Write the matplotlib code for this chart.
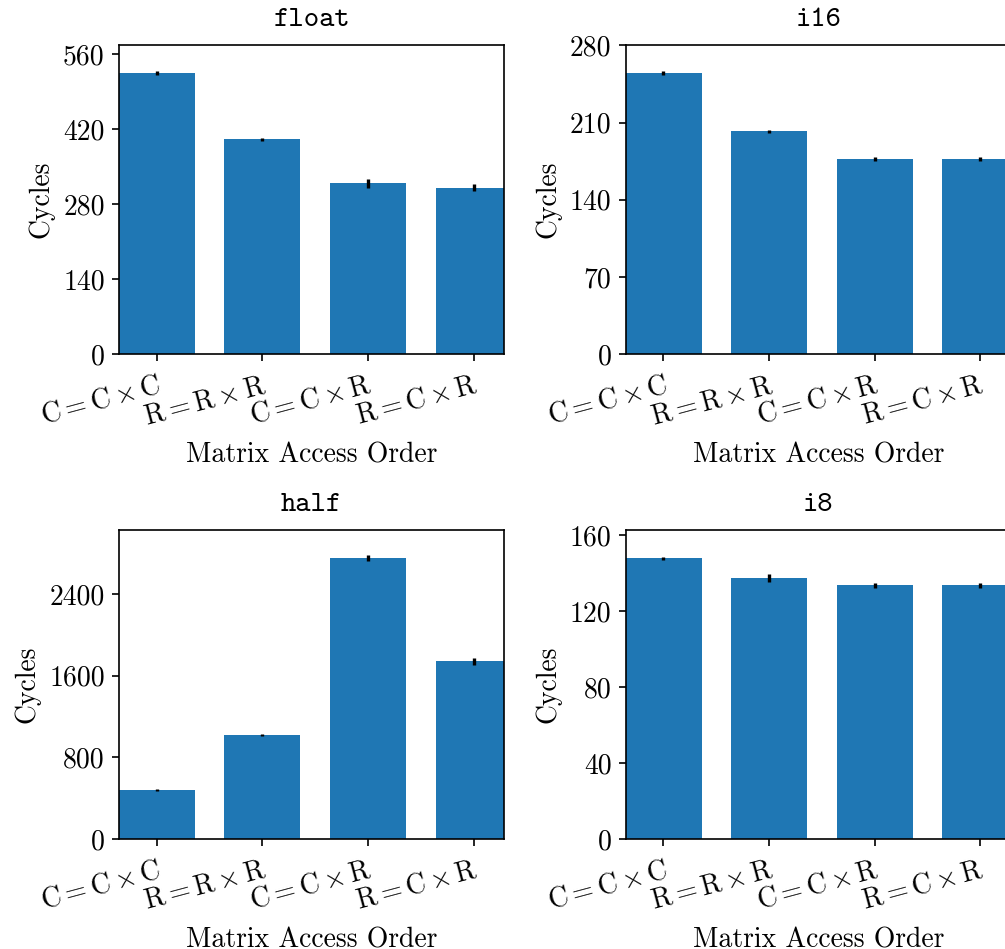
import matplotlib
matplotlib.use("Agg")
import matplotlib.pyplot as plt

plt.rcParams['font.family'] = 'serif'
plt.rcParams['font.serif'] = ['cmr10']
plt.rcParams['mathtext.fontset'] = 'cm'
plt.rcParams['axes.unicode_minus'] = False
plt.rcParams['font.size'] = 13.3

orders = [r'$\mathrm{C} = \mathrm{C} \times \mathrm{C}$',
          r'$\mathrm{R} = \mathrm{R} \times \mathrm{R}$',
          r'$\mathrm{C} = \mathrm{C} \times \mathrm{R}$',
          r'$\mathrm{R} = \mathrm{C} \times \mathrm{R}$']

# cycles per access order, with spread shown as error bars
float_cycles = [525, 401, 319, 311]
float_err = [4, 3, 8, 7]
i16_cycles = [255, 202, 177, 177]
i16_err = [1.8, 1.5, 1.5, 1.5]
half_cycles = [480, 1018, 2752, 1743]
half_err = [12, 12, 31, 34]
i8_cycles = [148, 137.5, 133.7, 133.7]
i8_err = [0.8, 2.2, 1.2, 1.2]

float_ticks = [0, 140, 280, 420, 560]
i16_ticks = [0, 70, 140, 210, 280]
half_ticks = [0, 800, 1600, 2400]
i8_ticks = [0, 40, 80, 120, 160]

panels = [
    ('float', float_cycles, float_err, float_ticks),
    ('i16', i16_cycles, i16_err, i16_ticks),
    ('half', half_cycles, half_err, half_ticks),
    ('i8', i8_cycles, i8_err, i8_ticks),
]

W, H = 1005, 949
fig = plt.figure(figsize=(W / 150, H / 150), dpi=150)

# axes boxes in pixels: left, top, right, bottom
boxes = [
    (119.3, 44.7, 504.3, 354.3),
    (626.0, 44.7, 1011.0, 354.3),
    (119.3, 530.0, 504.3, 839.0),
    (626.0, 530.0, 1011.0, 839.0),
]

for (name, vals, errs, ticks), (l, t, r, b) in zip(panels, boxes):
    ax = fig.add_axes([l / W, 1 - b / H, (r - l) / W, (b - t) / H])
    x = range(len(vals))
    ax.bar(x, vals, width=0.72, color='#1f77b4')
    ax.errorbar(x, vals, yerr=errs, fmt='none', ecolor='black',
                elinewidth=1.6, capsize=0)
    ax.set_xlim(-0.355, 3.29)
    ax.set_ylim(0, max(vals) * 1.1)
    ax.set_yticks(ticks)
    ax.set_xticks(list(x))
    ax.set_xticklabels(orders, rotation=15, ha='right', rotation_mode='anchor')
    ax.tick_params(axis='x', pad=5)
    ax.set_title(name, family='cmtt10', fontsize=14, pad=9)
    ax.set_ylabel('Cycles')
    ax.set_xlabel('Matrix Access Order', labelpad=6)

fig.savefig('out.png', dpi=150)
